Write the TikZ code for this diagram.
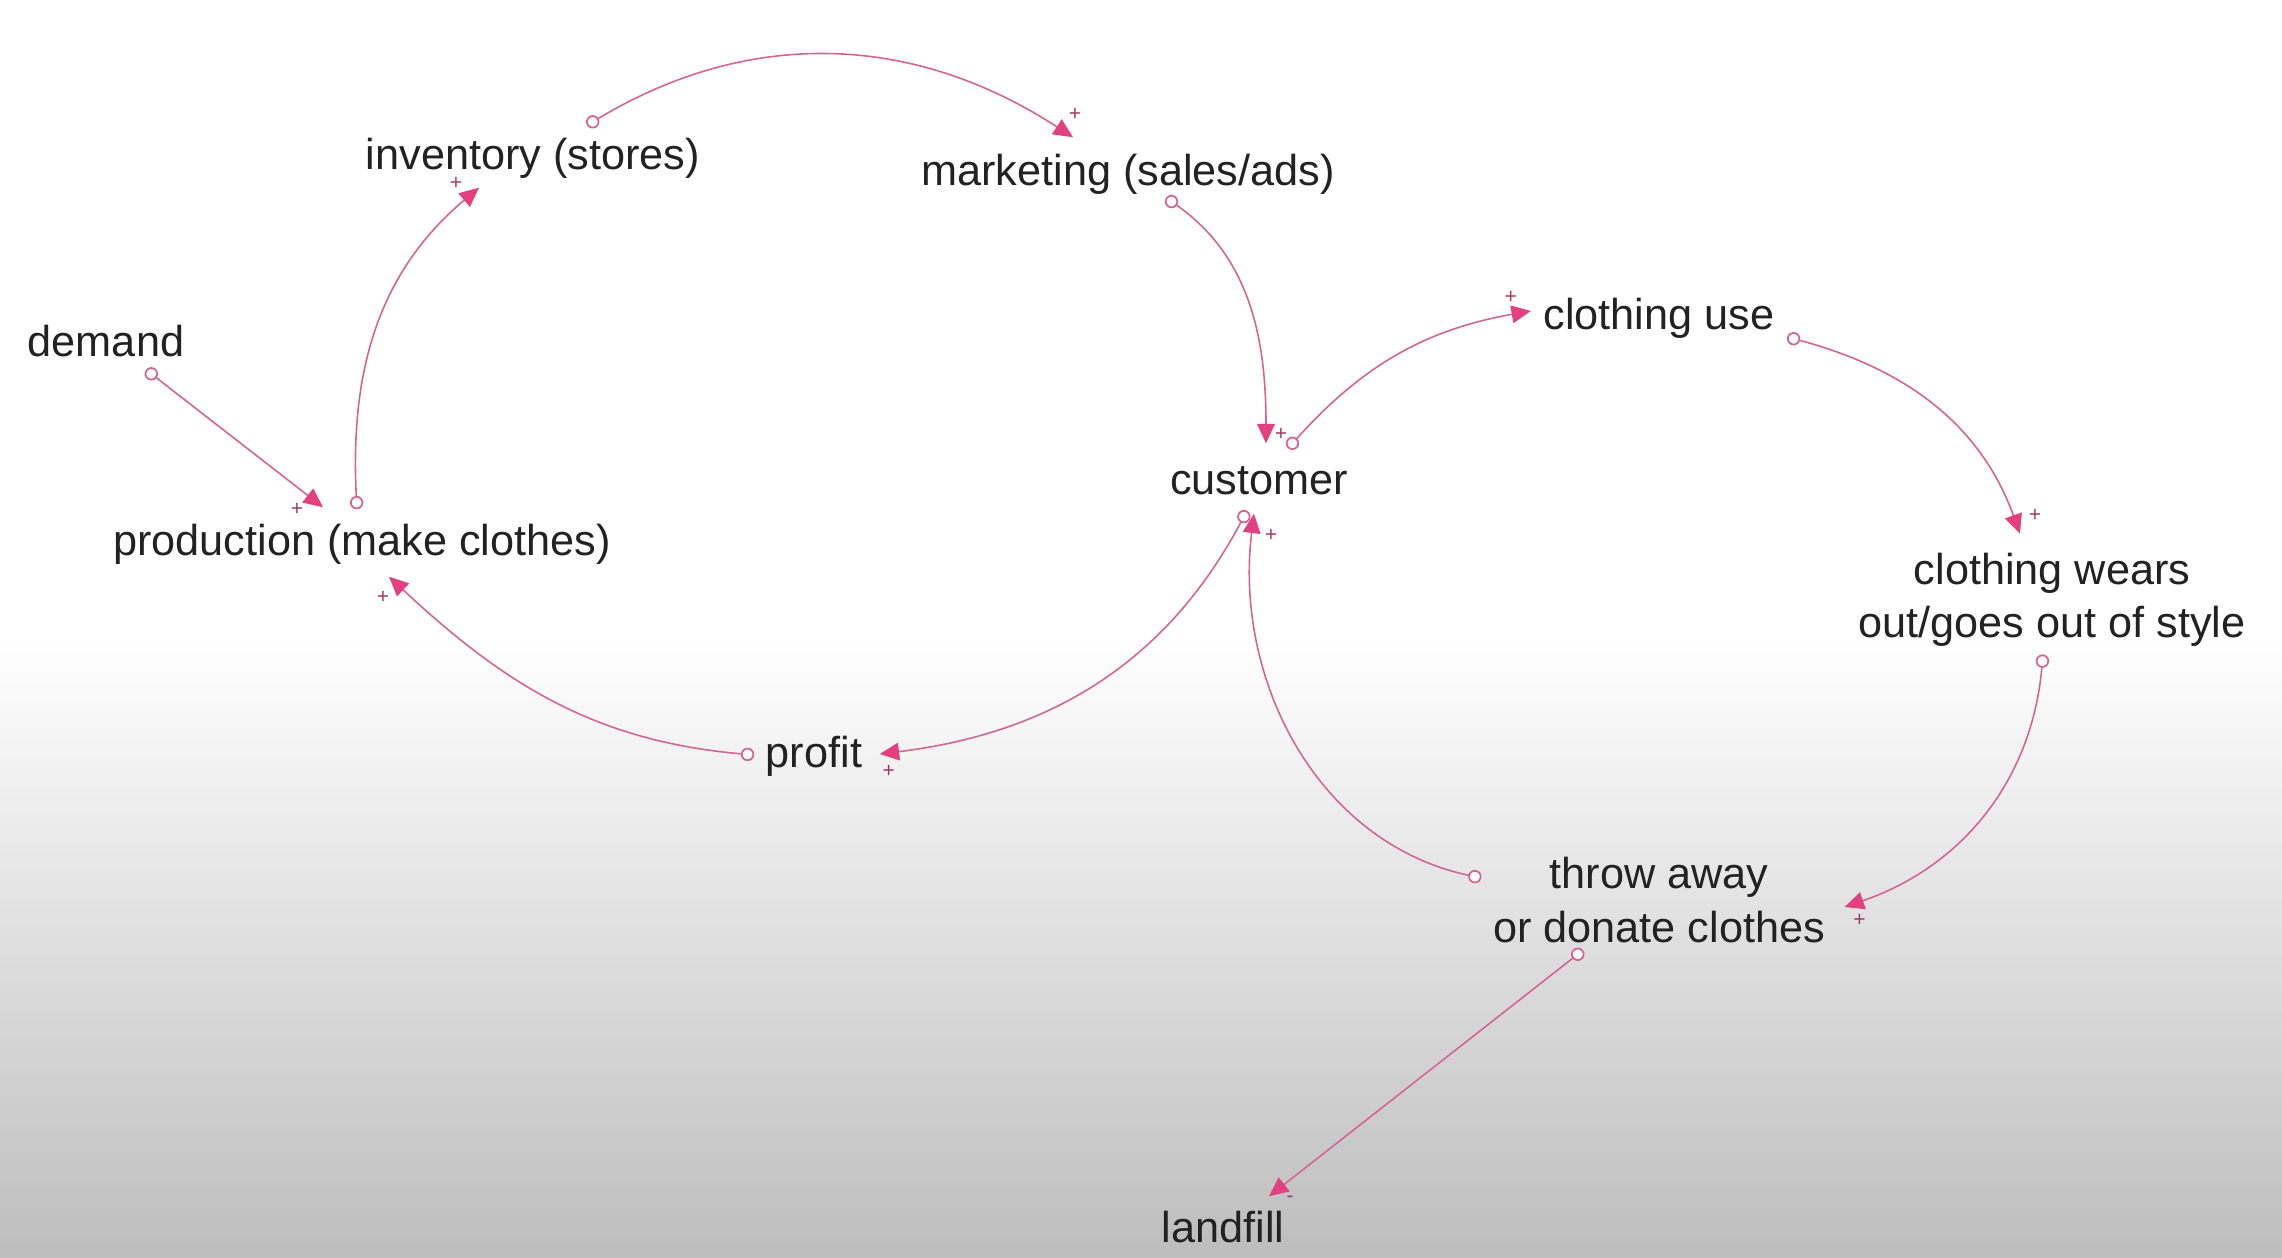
\documentclass[tikz,border=0pt]{standalone}
\usepackage{fontspec}
\setmainfont{Liberation Sans}
\usetikzlibrary{arrows.meta}
\definecolor{linkpink}{RGB}{214,100,145}
\definecolor{tippink}{RGB}{226,64,126}
\definecolor{signpink}{RGB}{160,60,100}
\definecolor{inkgray}{RGB}{34,34,34}
\definecolor{floorgray}{RGB}{189,189,189}
\tikzset{
factor/.style={inner xsep=0.02cm, inner ysep=0.12cm, text=inkgray,
  font=\fontsize{12.3}{15.1}\selectfont, text height=0.31cm, text depth=0.09cm},
factortwo/.style={inner xsep=0.02cm, inner ysep=0.12cm, text=inkgray,
  font=\fontsize{12.3}{15.1}\selectfont, align=center},
link/.style={draw=linkpink, line width=0.45pt,
  {Circle[length=3.8pt, fill=white, line width=0.5pt]}-{Triangle[length=5.5pt, width=5pt, fill=tippink, color=tippink]}},
sign/.style={text=signpink, font=\fontsize{6}{6}\selectfont, inner sep=0pt},
}

\begin{document}
\begin{tikzpicture}[x=0.01cm, y=0.01cm]

    \fill[white] (0,0) rectangle (2282,-1258);
    \shade[top color=white, bottom color=floorgray] (0,-640) rectangle (2282,-1258);
    \useasboundingbox (0,0) rectangle (2282,-1258);

    \node[factor] (demand) at (106,-345) {demand};
    \node[factor] (inv) at (533,-158) {inventory (stores)};
    \node[factor] (mkt) at (1128,-174) {marketing (sales/ads)};
    \node[factor] (use) at (1659,-318) {clothing use};
    \node[factor] (cust) at (1259,-483) {customer};
    \node[factor] (prod) at (362,-544) {production (make clothes)};
    \node[factortwo] (wear) at (2052,-600) {clothing wears\\out/goes out of style};
    \node[factor] (profit) at (814,-756) {profit};
    \node[factortwo] (throw) at (1659,-900) {throw away\\or donate clothes};
    \node[factor] (landfill) at (1223,-1231) {landfill};

    \draw[link] ([shift={(54,0)}]inv.north) to[out=31,in=147] node[sign,pos=1,shift={(2,23)}]{+} ([shift={(-55,4)}]mkt.north);
    \draw[link] ([shift={(38,9)}]mkt.south) to[out=-35,in=90] node[sign,pos=1,shift={(15,9)}]{+} ([shift={(7,7)}]cust.north);
    \draw[link] ([shift={(29,2)}]cust.north) to[out=48,in=190] node[sign,pos=1,shift={(-20,14)}]{+} ([shift={(-10,7)}]use.west);
    \draw[link] ([shift={(10,-19)}]use.east) to[out=-15,in=110] node[sign,pos=1,shift={(15,18)}]{+} ([shift={(-32,7)}]wear.north);
    \draw[link] ([shift={(-9,5)}]wear.south) to[out=-95,in=19] node[sign,pos=1,shift={(15,-13)}]{+} ([shift={(17,-7)}]throw.east);
    \draw[link] ([shift={(-9,22)}]throw.west) to[out=168,in=-97] node[sign,pos=1,shift={(17,-22)}]{+} ([shift={(-5,2)}]cust.south);
    \draw[link] ([shift={(-12,5)}]cust.south) to[out=-118,in=7] node[sign,pos=1,shift={(9,-17)}]{+} ([shift={(15,2)}]profit.east);
    \draw[link] ([shift={(-9,1)}]profit.west) to[out=175,in=-43] node[sign,pos=1,shift={(-6,-21)}]{+} ([shift={(27,0)}]prod.south);
    \draw[link] ([shift={(-5,2)}]prod.north) to[out=93,in=220] node[sign,pos=1,shift={(-23,4)}]{+} ([shift={(-54,3)}]inv.south);
    \draw[link] ([shift={(40,8)}]demand.south) -- node[sign,pos=1,shift={(-26,-2)}]{+} ([shift={(-39,4)}]prod.north);
    \draw[link] ([shift={(-76,5)}]throw.south) -- node[sign,pos=1,shift={(21,-3)}]{-} ([shift={(46,2)}]landfill.north);

\end{tikzpicture}
\end{document}
